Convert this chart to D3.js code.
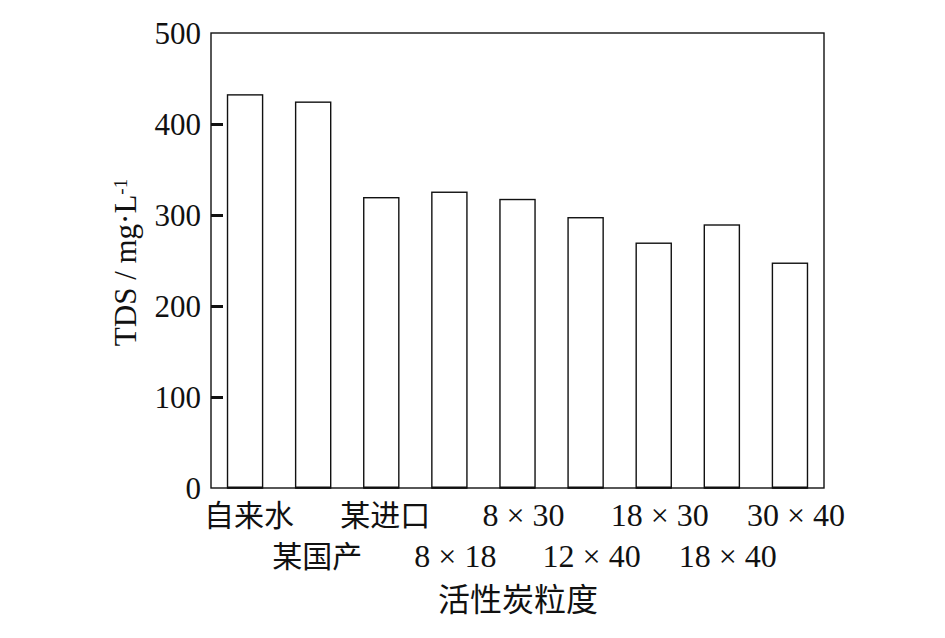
<!DOCTYPE html>
<html>
<head>
<meta charset="utf-8">
<script src="https://cdn.jsdelivr.net/npm/d3@7"></script>
<style>
  html, body { margin: 0; padding: 0; background: #fff; }
  svg { display: block; }
  .num { font-family: "Liberation Serif", "Times New Roman", serif; }
  .cjk { font-family: "Noto Sans CJK SC", sans-serif; }
</style>
</head>
<body>
<script>
const categories = ["自来水", "某国产", "某进口", "8 × 18", "8 × 30", "12 × 40", "18 × 30", "18 × 40", "30 × 40"];
const tdsValues = [432, 424, 319, 325, 317, 297, 269, 289, 247];
const yTicks = [0, 100, 200, 300, 400, 500];
const yLabel = "TDS / mg·L";
const xTitle = "活性炭粒度";

const W = 945, H = 638;
const margin = { left: 211, right: 945 - 824, top: 33, bottom: 638 - 488 };

const svg = d3.select("body").append("svg").attr("width", W).attr("height", H);

const x = d3.scaleBand().domain(categories)
  .range([margin.left, W - margin.right]).paddingInner(0.485).paddingOuter(0.2425);
const y = d3.scaleLinear().domain([0, 500]).range([H - margin.bottom, margin.top]);

// bars
svg.append("g").selectAll("rect").data(tdsValues).join("rect")
  .attr("x", (d, i) => x(categories[i]))
  .attr("y", d => y(d))
  .attr("width", x.bandwidth())
  .attr("height", d => y(0) - y(d))
  .attr("fill", "#fff").attr("stroke", "#111").attr("stroke-width", 1.4);

// thicker bottom edges of bars
svg.append("g").selectAll("line").data(tdsValues).join("line")
  .attr("x1", (d, i) => x(categories[i]))
  .attr("x2", (d, i) => x(categories[i]) + x.bandwidth())
  .attr("y1", y(0) - 0.5).attr("y2", y(0) - 0.5)
  .attr("stroke", "#111").attr("stroke-width", 2.2);

// frame
svg.append("rect")
  .attr("x", margin.left).attr("y", margin.top)
  .attr("width", W - margin.right - margin.left)
  .attr("height", y(0) - margin.top)
  .attr("fill", "none").attr("stroke", "#111").attr("stroke-width", 1.4);

// y axis (inward ticks)
const yAxis = d3.axisRight(y).tickValues(yTicks).tickSize(12).tickFormat("");
const gy = svg.append("g").attr("transform", `translate(${margin.left},0)`).call(yAxis);
gy.select(".domain").remove();
gy.selectAll(".tick line").attr("stroke", "#111").attr("stroke-width", 3)
  .attr("display", d => (d === 0 || d === 500) ? "none" : null);

// y tick labels
svg.append("g").selectAll("text").data(yTicks).join("text")
  .attr("class", "num")
  .attr("x", margin.left - 10).attr("y", d => y(d)).attr("dy", "0.35em")
  .attr("text-anchor", "end").attr("font-size", 31).attr("fill", "#111")
  .text(d => d);

// x category labels (alternating rows)
const isNum = d => /^[0-9]/.test(d);
svg.append("g").selectAll("text").data(categories).join("text")
  .attr("class", d => isNum(d) ? "num" : "cjk")
  .attr("x", d => x(d) + x.bandwidth() / 2 + (isNum(d) ? 6 : 4))
  .attr("y", (d, i) => i % 2 === 0 ? 526 : 567)
  .attr("text-anchor", "middle")
  .attr("font-size", d => isNum(d) ? 32 : 30)
  .attr("fill", "#111")
  .text(d => d);

// x title
svg.append("text").attr("class", "cjk")
  .attr("x", 518).attr("y", 611)
  .attr("text-anchor", "middle").attr("font-size", 32).attr("fill", "#111")
  .text(xTitle);

// y label
const yl = svg.append("text").attr("class", "num")
  .attr("transform", `translate(136,${(y(0) + y(500)) / 2 + 2}) rotate(-90)`)
  .attr("text-anchor", "middle").attr("font-size", 31).attr("fill", "#111");
yl.append("tspan").text(yLabel);
yl.append("tspan").attr("dy", "-0.45em").attr("font-size", 19).text("-1");
</script>
</body>
</html>
